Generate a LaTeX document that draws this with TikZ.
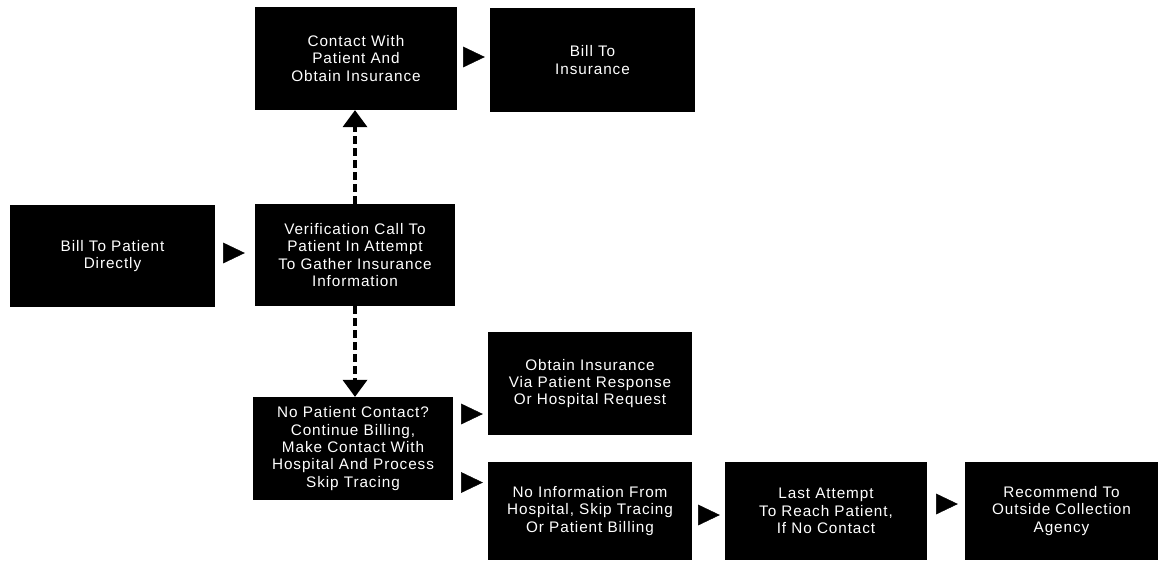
\documentclass[tikz,border=0pt]{standalone}
\usepackage{fontspec}
\setmainfont[LetterSpace=6]{Liberation Sans}
\usetikzlibrary{arrows.meta,calc}
\tikzset{
  box/.style={fill=black, text=white, inner sep=0pt, align=center,
    font=\fontsize{15.3}{17.4}\selectfont},
  arr/.style={line width=0.4pt, draw=white,
    -{Triangle[length=21.6pt,width=20.6pt,color=black]}},
  darr/.style={line width=4pt, dash pattern=on 8pt off 4pt,
    -{Triangle[length=17pt,width=25pt,line width=0pt]}},
}
\begin{document}
\begin{tikzpicture}[x=1pt,y=-1pt]
\useasboundingbox (0,0) rectangle (1158,560);
\node[box, minimum width=202pt, minimum height=103pt] (A) at (356,58.5) {Contact With\\Patient And\\Obtain Insurance};
\node[box, minimum width=205pt, minimum height=104pt] (B) at (592.5,60) {Bill To\\Insurance};
\node[box, minimum width=205pt, minimum height=102pt] (C) at (112.5,256) {Bill To Patient\\Directly};
\node[box, minimum width=200pt, minimum height=102pt] (D) at (355,255) {Verification Call To\\Patient In Attempt\\To Gather Insurance\\Information};
\node[box, minimum width=200pt, minimum height=103pt] (E) at (353,448.5) {No Patient Contact?\\Continue Billing,\\Make Contact With\\Hospital And Process\\Skip Tracing};
\node[box, minimum width=204pt, minimum height=103pt] (F) at (590,383.5) {Obtain Insurance\\Via Patient Response\\Or Hospital Request};
\node[box, minimum width=204pt, minimum height=98pt] (G) at (590,511) {No Information From\\Hospital, Skip Tracing\\Or Patient Billing};
\node[box, minimum width=202pt, minimum height=98pt] (H) at (826,511) {Last Attempt\\To Reach Patient,\\If No Contact};
\node[box, minimum width=193pt, minimum height=98pt] (I) at (1061.5,511) {Recommend To\\Outside Collection\\Agency};

\draw[arr, shorten <=2pt, shorten >=5pt] ($(A.east)+(0,-1.5)$) -- ($(A.east -| B.west)+(0,-1.5)$);
\draw[arr, shorten <=2pt, shorten >=10pt] ($(C.east)+(0,-3)$) -- ($(C.east -| D.west)+(0,-3)$);
\draw[arr, shorten <=2pt, shorten >=5pt] ($(E.east)+(0,-34.5)$) -- ($(E.east -| F.west)+(0,-34.5)$);
\draw[arr, shorten <=2pt, shorten >=5pt] ($(E.east)+(0,34)$) -- ($(E.east -| G.west)+(0,34)$);
\draw[arr, shorten <=2pt, shorten >=5pt] ($(G.east)+(0,4)$) -- ($(G.east -| H.west)+(0,4)$);
\draw[arr, shorten <=2pt, shorten >=7pt] ($(H.east)+(0,-7)$) -- ($(H.east -| I.west)+(0,-7)$);

\draw[darr] (D.north) -- (D.north |- A.south);
\draw[darr] (D.south) -- (D.south |- E.north);
\end{tikzpicture}
\end{document}
